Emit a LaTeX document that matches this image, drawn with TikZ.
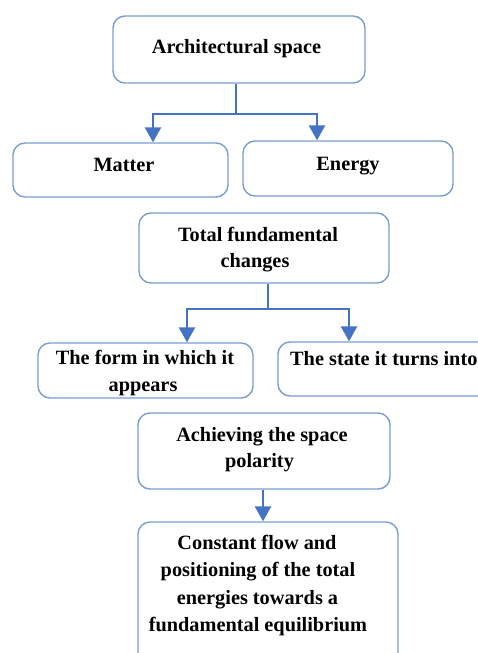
\documentclass[tikz,border=0pt]{standalone}
\usepackage{fontspec}
\setmainfont{Liberation Serif}
\usetikzlibrary{arrows.meta}
\definecolor{boxc}{RGB}{120,158,210}
\definecolor{arrc}{RGB}{68,114,196}
\tikzset{
  box/.style={draw=boxc, line width=1.4pt, rounded corners=12pt, fill=white, inner sep=0pt},
  txt/.style={font=\fontsize{20.3}{27}\selectfont\bfseries, inner sep=0pt, anchor=base},
  conn/.style={draw=arrc, line width=2.6pt},
  arr/.style={conn, -{Triangle[width=16pt,length=15pt]}},
}
\begin{document}
\begin{tikzpicture}[x=1pt,y=-1pt]
\useasboundingbox (0,0) rectangle (478,653);
\begin{scope}
\clip (0,0) rectangle (478,653);
% boxes
\node[box, minimum width=252pt, minimum height=67pt] (arch) at (239,49.5) {};
\node[box, minimum width=215pt, minimum height=54pt] (matter) at (120.5,170) {};
\node[box, minimum width=210pt, minimum height=55pt] (energy) at (348,168.5) {};
\node[box, minimum width=250pt, minimum height=70pt] (total) at (264,248) {};
\node[box, minimum width=215pt, minimum height=55pt] (form) at (145.5,370.5) {};
\node[box, minimum width=214pt, minimum height=54pt] (state) at (385,369) {};
\node[box, minimum width=252pt, minimum height=76pt] (achieve) at (264,451) {};
\node[box, minimum width=260pt, minimum height=143pt] (constant) at (268,593.5) {};
% texts
\node[txt] (tarch) at (236.5,53) {Architectural space};
\node[txt] (tmatter) at (124,171) {Matter};
\node[txt] (tenergy) at (348,170) {Energy};
\node[txt] (ttotala) at (258,241) {Total fundamental};
\node[txt] (ttotalb) at (255,267) {changes};
\node[txt] (tforma) at (145,364) {The form in which it};
\node[txt] (tformb) at (143,391) {appears};
\node[txt, anchor=base west] (tstate) at (290,365) {The state it turns into};
\node[txt] (tachievea) at (262,441) {Achieving the space};
\node[txt] (tachieveb) at (259.5,467) {polarity};
\node[txt] (tconsta) at (257,549) {Constant flow and};
\node[txt] (tconstb) at (258,576.5) {positioning of the total};
\node[txt] (tconstc) at (257.5,604) {energies towards a};
\node[txt] (tconstd) at (258,631.5) {fundamental equilibrium};
% connectors
\coordinate (j1) at (236,114);
\draw[conn] ([xshift=-3pt]arch.south) -- (j1);
\draw[arr] (j1) -| ([xshift=32.5pt]matter.north);
\draw[arr] (j1) -| ([xshift=-31pt]energy.north);
\coordinate (j2) at (268,309);
\draw[conn] ([xshift=4pt]total.south) -- (j2);
\draw[arr] (j2) -| ([xshift=41.5pt]form.north);
\draw[arr] (j2) -| ([xshift=-36pt]state.north);
\draw[arr] ([xshift=-1pt]achieve.south) -- ([xshift=-1pt]achieve.south |- constant.north);
\end{scope}
\end{tikzpicture}
\end{document}
